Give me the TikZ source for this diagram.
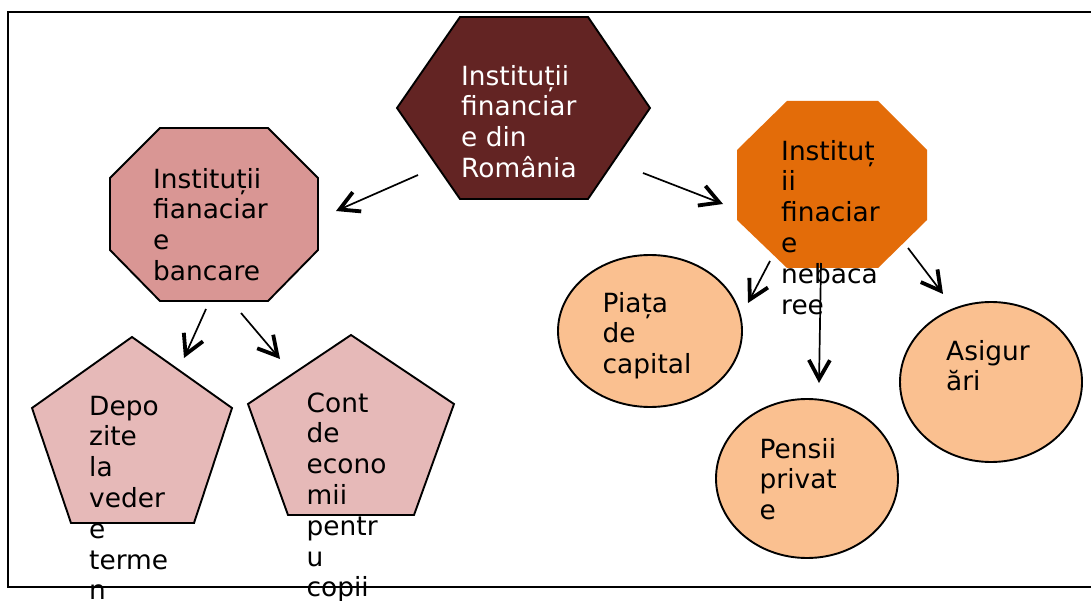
\documentclass[tikz,border=0pt]{standalone}
\usepackage{fontspec}
\setmainfont{DejaVu Sans}
\usetikzlibrary{arrows.meta}
\definecolor{hexfill}{HTML}{632423}
\definecolor{bankfill}{HTML}{D99694}
\definecolor{nonbankfill}{HTML}{E36C09}
\definecolor{ovalfill}{HTML}{FAC090}
\definecolor{pentfill}{HTML}{E6B9B8}
\begin{document}
\begin{tikzpicture}[x=1pt,y=-1pt,
  shapeline/.style={draw=black,line width=1.9pt,line join=miter},
  lbl/.style={anchor=north west,inner sep=0pt,align=left,font=\fontsize{26.4}{30.8}\selectfont},
  conn/.style={line width=1.7pt,-{Straight Barb[length=19pt,width=21pt,line width=3.8pt]}}]
\useasboundingbox (0,0) rectangle (1091,601);
\clip (0,0) rectangle (1091,601);
\fill[white] (0,0) rectangle (1091,601);
% frame
\draw[line width=1.8pt] (1100,12) -- (8,12) -- (8,587) -- (1100,587);
% shapes
\draw[shapeline,fill=hexfill] (460,17) -- (588,17) -- (650,108) -- (588,199) -- (460,199) -- (397,108) -- cycle;
\draw[shapeline,fill=bankfill] (160,128) -- (268,128) -- (318,178) -- (318,250) -- (268,301) -- (160,301) -- (110,250) -- (110,178) -- cycle;
\fill[nonbankfill] (787,101) -- (878,101) -- (927,150) -- (927,220) -- (878,268) -- (787,268) -- (737,220) -- (737,150) -- cycle;
\draw[shapeline,fill=ovalfill] (650,331) ellipse [x radius=92, y radius=76];
\draw[shapeline,fill=ovalfill] (807,478.5) ellipse [x radius=91, y radius=79.5];
\draw[shapeline,fill=ovalfill] (991,382) ellipse [x radius=91, y radius=80];
\draw[shapeline,fill=pentfill] (132,337) -- (232,408) -- (194,523) -- (71,523) -- (32,408) -- cycle;
\draw[shapeline,fill=pentfill] (351,335) -- (454,404) -- (414,515) -- (288,515) -- (248,404) -- cycle;
% texts
\node[lbl,text=white] (root) at (461,63.4) {\strut Instituții\\financiar\\e din\\România};
\node[lbl] (bank) at (153,166.4) {\strut Instituții\\fianaciar\\e\\bancare};
\node[lbl] (nonbank) at (781,138.4) {\strut Instituț\\ii\\finaciar\\e\\nebaca\\ree};
\node[lbl] (capital) at (602.5,290.4) {\strut Piața\\de\\capital};
\node[lbl] (asig) at (946,338.4) {\strut Asigur\\ări};
\node[lbl] (pensii) at (759.5,436.4) {\strut Pensii\\privat\\e};
\node[lbl] (depo) at (89,393.4) {\strut Depo\\zite\\la\\veder\\e\\terme\\n};
\node[lbl] (cont) at (306.5,390.4) {\strut Cont\\de\\econo\\mii\\pentr\\u\\copii};
% connector ends
\coordinate (r1) at (418,175); \coordinate (b0) at (336,211);
\coordinate (r2) at (643,173); \coordinate (n0) at (723,204);
\coordinate (b1) at (206,309); \coordinate (d0) at (184,358);
\coordinate (b2) at (241,313); \coordinate (c0) at (280,359);
\coordinate (n1) at (770,261); \coordinate (p0) at (748,303);
\coordinate (n2) at (821,263); \coordinate (s0) at (819,383);
\coordinate (n3) at (908,248); \coordinate (a0) at (943,294);
\draw[conn] (r1) -- (b0);
\draw[conn] (r2) -- (n0);
\draw[conn] (b1) -- (d0);
\draw[conn] (b2) -- (c0);
\draw[conn] (n1) -- (p0);
\draw[conn] (n2) -- (s0);
\draw[conn] (n3) -- (a0);
\end{tikzpicture}
\end{document}
